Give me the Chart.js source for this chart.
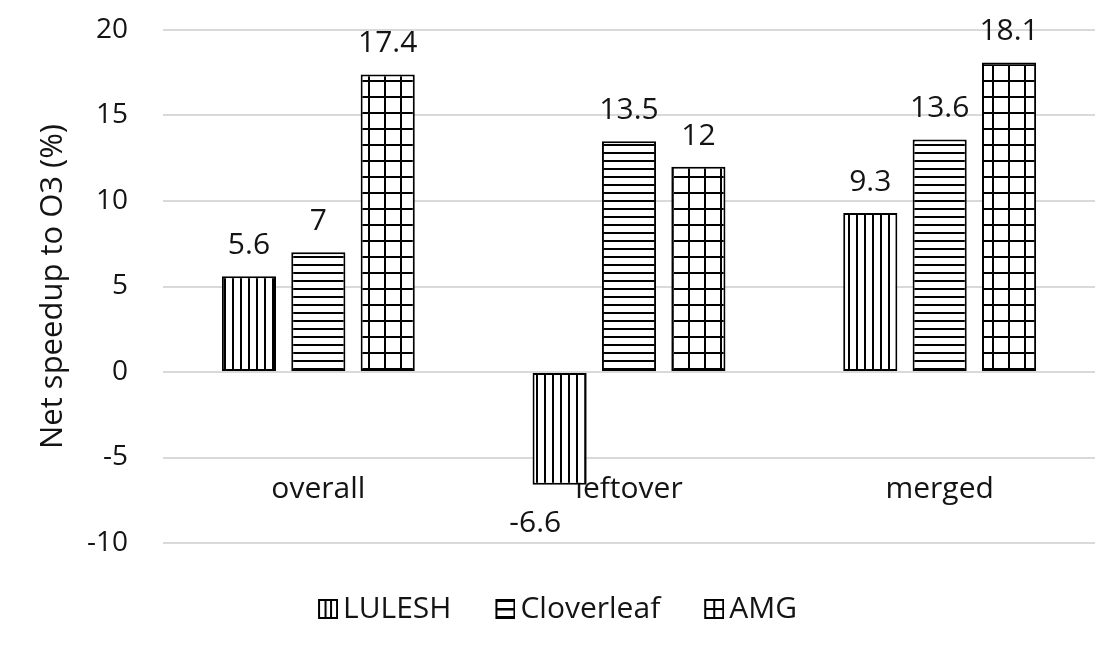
<!DOCTYPE html>
<html>
<head>
<meta charset="utf-8">
<script src="https://cdn.jsdelivr.net/npm/chart.js@4.4.0/dist/chart.umd.min.js"></script>
<style>
  html, body { margin: 0; padding: 0; background: #fff; }
  #wrap { width: 1118px; height: 650px; position: relative; }
</style>
</head>
<body>
<div id="wrap"><canvas id="c" width="1118" height="650"></canvas></div>
<script>
// ---- data ----
const categories = ['overall', 'leftover', 'merged'];
const seriesNames = ['LULESH', 'Cloverleaf', 'AMG'];
const lulesh = [5.6, -6.6, 9.3];
const cloverleaf = [7, 13.5, 13.6];
const amg = [17.4, 12, 18.1];
const yTicks = [-10, -5, 0, 5, 10, 15, 20];
const yTitle = 'Net speedup to O3 (%)';

const FONT = '"Open Sans", "Noto Sans", sans-serif';
const TXT = '#141414';

const canvas = document.getElementById('c');
const ctx = canvas.getContext('2d');

function makeTile(type) {
  const s = type === 'grid' ? 16 : 8;
  const t = document.createElement('canvas');
  t.width = s; t.height = s;
  const g = t.getContext('2d');
  g.fillStyle = '#fff'; g.fillRect(0, 0, s, s);
  g.fillStyle = '#000';
  if (type === 'v' || type === 'grid') g.fillRect(0, 0, 2, s);
  if (type === 'h' || type === 'grid') g.fillRect(0, 0, s, 2);
  return t;
}
function makePattern(type) { return ctx.createPattern(makeTile(type), 'repeat'); }
// legend icon: 50px wide image, visible 20x20 square on its right part
function makeIcon(type) {
  const c = document.createElement('canvas');
  c.width = 50; c.height = 20;
  const g = c.getContext('2d');
  const ox = 30;
  g.fillStyle = '#fff'; g.fillRect(ox, 0, 20, 20);
  g.fillStyle = '#000';
  if (type === 'v') { g.fillRect(ox + 6.5, 0, 2, 20); g.fillRect(ox + 12, 0, 2, 20); }
  if (type === 'h') { g.fillRect(ox, 9, 20, 2.5); g.fillRect(ox, 0, 20, 3); g.fillRect(ox, 17, 20, 3); }
  if (type === 'grid') { g.fillRect(ox + 9, 0, 2, 20); g.fillRect(ox, 9, 20, 2); }
  g.lineWidth = 2; g.strokeStyle = '#000'; g.strokeRect(ox + 1, 1, 18, 18);
  return c;
}

const types = ['v', 'h', 'grid'];
const seriesValues = [lulesh, cloverleaf, amg];

const datasets = seriesNames.map((name, i) => ({
  label: name,
  data: seriesValues[i],
  backgroundColor: makePattern(types[i]),
  borderColor: '#000',
  borderWidth: 2,
  borderSkipped: false,
  pointStyle: makeIcon(types[i]),
  categoryPercentage: 0.67,
  barPercentage: 0.78
}));

const dataLabels = {
  id: 'dataLabels',
  afterDatasetsDraw(chart) {
    const c = chart.ctx;
    c.save();
    c.font = '30px ' + FONT;
    c.fillStyle = TXT;
    c.textAlign = 'center';
    c.textBaseline = 'alphabetic';
    chart.data.datasets.forEach((ds, di) => {
      const meta = chart.getDatasetMeta(di);
      meta.data.forEach((el, i) => {
        const v = ds.data[i];
        if (v >= 0) {
          c.fillText(String(v), el.x, el.y - 22);
        } else {
          c.fillText(String(v), el.x - el.width * 0.45, el.y + 47);
        }
      });
    });
    c.restore();
  }
};

new Chart(ctx, {
  type: 'bar',
  data: { labels: categories, datasets },
  options: {
    responsive: false,
    animation: false,
    layout: { padding: { top: 30, right: 23, bottom: 16, left: 0 } },
    plugins: {
      tooltip: { enabled: false },
      legend: {
        position: 'bottom',
        labels: {
          usePointStyle: true,
          pointStyleWidth: 30,
          font: { family: FONT, size: 30 },
          color: TXT,
          padding: 24
        }
      }
    },
    scales: {
      x: {
        position: { y: -5 },
        grid: { display: false },
        border: { display: false },
        ticks: { font: { family: FONT, size: 30 }, color: TXT, padding: 6 }
      },
      xSpace: {
        type: 'category',
        position: 'bottom',
        labels: categories,
        grid: { display: false },
        border: { display: false },
        ticks: { display: false },
        afterFit(s) { s.height = 27; }
      },
      y: {
        min: -10, max: 20,
        afterBuildTicks(s) { s.ticks = yTicks.map(v => ({ value: v })); },
        grid: { color: '#d9d9d9', lineWidth: 2, drawTicks: true, tickLength: 35, tickColor: 'rgba(0,0,0,0)' },
        border: { display: false },
        ticks: { font: { family: FONT, size: 28 }, color: TXT, padding: 0 },
        title: { display: true, text: yTitle, font: { family: FONT, size: 31 }, color: TXT, padding: { top: 35, bottom: 0 } },
        afterFit(s) { s.width = 163; }
      }
    }
  },
  plugins: [dataLabels]
});
</script>
</body>
</html>
